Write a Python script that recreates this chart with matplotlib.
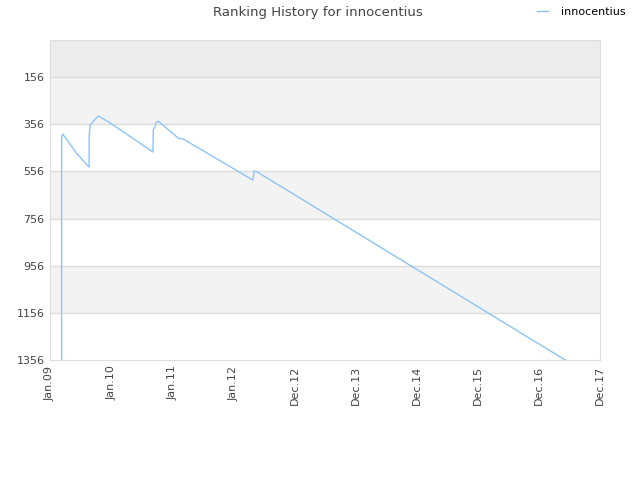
import matplotlib
matplotlib.use("Agg")
import matplotlib.pyplot as plt

# ranking history, x in decimal years, y = rank
years = [2009.19, 2009.19, 2009.21, 2009.43, 2009.64, 2009.64, 2009.655, 2009.79,
         2009.98, 2010.685, 2010.69, 2010.72, 2010.73, 2010.77, 2011.10, 2011.18,
         2012.32, 2012.34, 2012.40, 2017.43]
ranks = [1356, 410, 398, 478, 538, 419, 360, 321,
         350, 474, 381, 365, 351, 343, 415, 419,
         593, 554, 560, 1356]

ytick_vals = [156, 356, 556, 756, 956, 1156, 1356]
xtick_pos = list(range(2009, 2019))
xtick_labels = ["Jan.09", "Jan.10", "Jan.11", "Jan.12", "Dec.12",
                "Dec.13", "Dec.14", "Dec.15", "Dec.16", "Dec.17"]

fig = plt.figure(figsize=(6.4, 4.8), dpi=100)
ax = fig.add_axes([50/640, 120/480, 550/640, 320/480])

ytop = -1
ax.set_ylim(1356, ytop)
ax.set_xlim(2009, 2018)

# alternating bands between gridlines
ax.axhspan(ytop, 156, color="#ececec", zorder=0, lw=0)
for i in range(len(ytick_vals) - 1):
    if i % 2 == 0:
        ax.axhspan(ytick_vals[i], ytick_vals[i + 1], color="#f3f3f3", zorder=0, lw=0)

for v in ytick_vals[:-1]:
    ax.axhline(v, color="#dddddd", lw=1, zorder=1)

ax.plot(years, ranks, color="#8cc4f7", lw=1, zorder=3, label="innocentius")

ax.set_yticks(ytick_vals)
ax.set_yticklabels([str(v) for v in ytick_vals], fontsize=8, color="#444444")
ax.set_xticks(xtick_pos)
ax.set_xticklabels(xtick_labels, rotation=90, fontsize=8, color="#444444")
ax.tick_params(length=0, pad=4)

for s in ax.spines.values():
    s.set_color("#dddddd")

fig.text(0.497, 0.988, "Ranking History for innocentius", ha="center", va="top",
         fontsize=9.5, color="#444444")
ax.legend(loc="upper right", bbox_to_anchor=(1.065, 1.135), frameon=False,
          fontsize=8, handlelength=1.0, handletextpad=1.2)

fig.savefig("out.png", dpi=100)
